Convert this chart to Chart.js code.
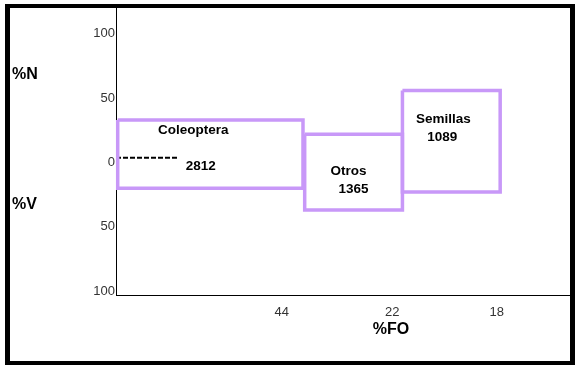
<!DOCTYPE html>
<html>
<head>
<meta charset="utf-8">
<script src="https://cdn.jsdelivr.net/npm/chart.js@4.4.1/dist/chart.umd.min.js"></script>
<style>
  body { margin: 0; background: #fff; }
  #wrap { position: relative; width: 582px; height: 369px; }
  #frame { position: absolute; left: 5px; top: 4px; width: 570px; height: 361px;
           box-sizing: border-box; border: 4px solid #000; border-left-width: 5px; border-right-width: 5px; }
  canvas { position: absolute; left: 0; top: 0; }
</style>
</head>
<body>
<div id="wrap">
  <div id="frame"></div>
  <canvas id="dietChart" width="582" height="369"></canvas>
</div>
<script>
// prey categories and their values
var categories = ["Coleoptera", "Otros", "Semillas"];
var counts = [2812, 1365, 1089];
var pctN = [33, 22, 56];      // upper half
var pctV = [20, 37, 23];      // lower half
var foWidth = [44, 23, 23];   // box widths along %FO
var foTickAt = [39, 65, 89.6];
var foTickLabels = ["44", "22", "18"];
var yTicks = [100, 50, 0, -50, -100];
var dashLine = [[0, 3.6], [14.6, 3.6]];

// text placement inside each box (pixels from box centre / top)
var nameOffset = [[-17, 10], [-5, 37], [-8, 29]];
var countOffset = [[-9.5, 46], [0, 55], [-9, 47]];

var boxColor = 'rgb(200, 152, 248)';

function boxPoints(i) {
    var x0 = 0.4;
    for (var k = 0; k < i; k++) x0 += foWidth[k];
    var x1 = x0 + foWidth[i];
    if (i === 0) x1 -= 0.4;
    return [
        { x: x0, y: pctN[i] }, { x: x1, y: pctN[i] },
        { x: x1, y: -pctV[i] }, { x: x0, y: -pctV[i] }, { x: x0, y: pctN[i] }
    ];
}

var datasets = categories.map(function (c, i) {
    return {
        label: c,
        data: boxPoints(i),
        showLine: true,
        borderColor: boxColor,
        borderWidth: 3.5,
        borderJoinStyle: 'miter',
        pointRadius: 0,
        clip: false,
        fill: false
    };
});
datasets.push({
    label: 'ref',
    data: dashLine.map(function (p) { return { x: p[0], y: p[1] }; }),
    showLine: true,
    borderColor: '#000',
    borderWidth: 2,
    borderDash: [5, 2],
    pointRadius: 0,
    clip: false
});

var boxText = {
    id: 'boxText',
    afterDatasetsDraw: function (chart) {
        var ctx = chart.ctx;
        var xs = chart.scales.x, ys = chart.scales.y;
        ctx.save();
        ctx.fillStyle = '#000';
        ctx.textAlign = 'center';
        ctx.textBaseline = 'middle';
        ctx.font = 'bold 13.5px "Liberation Sans", Arial, sans-serif';
        categories.forEach(function (c, i) {
            var pts = boxPoints(i);
            var cx = (xs.getPixelForValue(pts[0].x) + xs.getPixelForValue(pts[1].x)) / 2;
            var top = ys.getPixelForValue(pctN[i]);
            ctx.fillText(c, cx + nameOffset[i][0], top + nameOffset[i][1]);
            ctx.fillText(String(counts[i]), cx + countOffset[i][0], top + countOffset[i][1]);
        });
        ctx.font = 'bold 16px "Liberation Sans", Arial, sans-serif';
        ctx.textAlign = 'left';
        ctx.fillText('%N', 12, 75);
        ctx.fillText('%V', 12, 205);
        ctx.textAlign = 'center';
        ctx.fillText('%FO', 391, 330);
        ctx.restore();
    }
};

var ctx = document.getElementById('dietChart').getContext('2d');
var dietChart = new Chart(ctx, {
    type: 'scatter',
    data: { datasets: datasets },
    options: {
        responsive: false,
        animation: false,
        devicePixelRatio: 1,
        layout: { padding: { top: 8, right: 10, left: 0, bottom: 0 } },
        plugins: { legend: { display: false }, tooltip: { enabled: false } },
        scales: {
            x: {
                type: 'linear',
                min: 0,
                max: 107.3,
                grid: { display: false, drawTicks: false },
                border: { display: true, color: '#000', width: 1 },
                afterFit: function (s) { s.height = 74; },
                afterBuildTicks: function (s) {
                    s.ticks = foTickAt.map(function (v) { return { value: v }; });
                },
                ticks: {
                    padding: 10,
                    color: '#333',
                    font: { family: '"Liberation Sans", Arial, sans-serif', size: 13 },
                    maxRotation: 0,
                    callback: function (v, idx) { return foTickLabels[idx]; }
                }
            },
            y: {
                type: 'linear',
                min: -103,
                max: 119.4,
                grid: { display: false, drawTicks: false },
                border: { display: true, color: '#000', width: 1 },
                afterFit: function (s) { s.width = 116; },
                afterBuildTicks: function (s) {
                    s.ticks = yTicks.map(function (v) { return { value: v }; });
                },
                ticks: {
                    padding: 1,
                    color: '#333',
                    font: { family: '"Liberation Sans", Arial, sans-serif', size: 13 },
                    callback: function (v) { return Math.abs(v); }
                }
            }
        }
    },
    plugins: [boxText]
});
</script>
</body>
</html>
